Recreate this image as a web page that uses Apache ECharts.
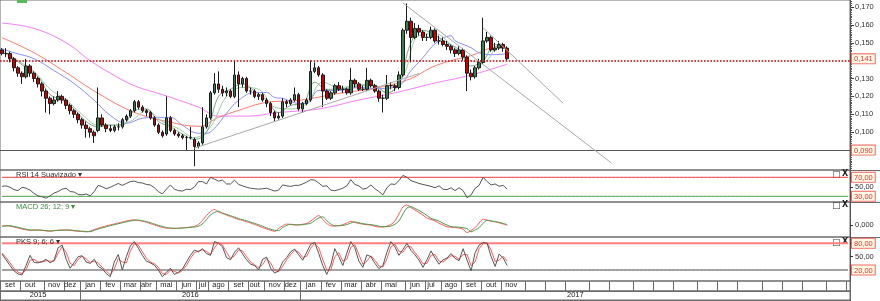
<!DOCTYPE html>
<html><head><meta charset="utf-8">
<script src="https://cdn.jsdelivr.net/npm/echarts@6/dist/echarts.min.js"></script>
<style>html,body{margin:0;padding:0;background:#fff}#c{width:880px;height:301px}</style>
</head><body><div id="c"></div>
<script>
// ---------- DATA ----------
const SLOTS = 212; // time slots on the axis (history + empty future)
const openP = [
0.146,0.144,0.144,0.141,0.136,0.133,0.131,0.137,0.133,0.130,
0.127,0.123,0.119,0.116,0.118,0.120,0.118,0.115,0.112,0.110,
0.107,0.104,0.102,0.100,0.101,0.108,0.104,0.102,0.101,0.103,
0.103,0.107,0.109,0.112,0.117,0.114,0.112,0.111,0.108,0.104,
0.100,0.099,0.108,0.101,0.099,0.098,0.097,0.097,0.096,0.092,
0.094,0.103,0.108,0.122,0.127,0.124,0.122,0.123,0.120,0.132,
0.127,0.130,0.123,0.123,0.120,0.121,0.118,0.116,0.111,0.108,
0.109,0.117,0.116,0.118,0.121,0.113,0.116,0.118,0.134,0.136,
0.132,0.123,0.119,0.122,0.126,0.124,0.124,0.122,0.129,0.127,
0.124,0.124,0.129,0.126,0.123,0.119,0.119,0.126,0.126,0.125,
0.132,0.157,0.162,0.153,0.158,0.156,0.153,0.153,0.157,0.151,
0.151,0.149,0.148,0.146,0.144,0.146,0.142,0.133,0.131,0.136,
0.139,0.151,0.153,0.146,0.147,0.149,0.147];
const closeP = [
0.144,0.144,0.141,0.136,0.133,0.131,0.137,0.133,0.130,0.127,
0.123,0.119,0.116,0.118,0.120,0.118,0.115,0.112,0.110,0.107,
0.104,0.102,0.100,0.098,0.108,0.104,0.102,0.101,0.103,0.103,
0.107,0.109,0.112,0.117,0.114,0.112,0.111,0.108,0.104,0.100,
0.098,0.108,0.101,0.099,0.098,0.097,0.097,0.097,0.092,0.094,
0.103,0.108,0.122,0.127,0.124,0.122,0.123,0.120,0.132,0.127,
0.130,0.123,0.123,0.120,0.121,0.118,0.116,0.111,0.108,0.109,
0.117,0.116,0.118,0.121,0.113,0.116,0.118,0.134,0.136,0.132,
0.123,0.119,0.122,0.126,0.124,0.124,0.122,0.129,0.127,0.124,
0.124,0.129,0.126,0.123,0.119,0.119,0.126,0.126,0.125,0.132,
0.157,0.162,0.153,0.158,0.156,0.153,0.153,0.157,0.151,0.151,
0.149,0.148,0.146,0.144,0.146,0.142,0.133,0.131,0.136,0.139,
0.151,0.153,0.146,0.147,0.149,0.147,0.141];
const highP = [
0.147,0.147,0.145,0.142,0.137,0.134,0.141,0.138,0.134,0.131,
0.128,0.124,0.120,0.120,0.123,0.121,0.119,0.116,0.113,0.111,
0.108,0.106,0.103,0.101,0.125,0.110,0.105,0.104,0.104,0.105,
0.108,0.110,0.113,0.118,0.118,0.115,0.113,0.112,0.109,0.105,
0.101,0.120,0.109,0.102,0.100,0.099,0.098,0.103,0.097,0.095,
0.114,0.110,0.123,0.133,0.134,0.126,0.125,0.124,0.140,0.134,
0.131,0.131,0.125,0.124,0.122,0.122,0.119,0.117,0.112,0.111,
0.119,0.118,0.119,0.125,0.122,0.117,0.119,0.140,0.139,0.137,
0.133,0.124,0.123,0.127,0.128,0.126,0.125,0.136,0.130,0.128,
0.126,0.136,0.130,0.127,0.124,0.121,0.132,0.128,0.127,0.134,
0.158,0.172,0.164,0.161,0.160,0.157,0.155,0.159,0.158,0.154,
0.153,0.151,0.149,0.147,0.148,0.147,0.143,0.135,0.137,0.141,
0.164,0.156,0.154,0.150,0.151,0.150,0.148];
const lowP = [
0.143,0.142,0.139,0.134,0.131,0.127,0.130,0.131,0.128,0.125,
0.120,0.111,0.110,0.115,0.117,0.116,0.113,0.110,0.108,0.105,
0.102,0.097,0.097,0.094,0.100,0.103,0.100,0.100,0.100,0.101,
0.102,0.106,0.108,0.111,0.113,0.111,0.109,0.107,0.103,0.099,
0.097,0.098,0.100,0.098,0.097,0.096,0.090,0.096,0.081,0.091,
0.093,0.102,0.107,0.121,0.122,0.120,0.120,0.119,0.119,0.114,
0.125,0.122,0.121,0.119,0.118,0.117,0.114,0.109,0.106,0.107,
0.108,0.114,0.115,0.117,0.112,0.111,0.115,0.117,0.133,0.131,
0.114,0.118,0.118,0.121,0.123,0.122,0.121,0.121,0.125,0.123,
0.123,0.123,0.125,0.122,0.117,0.111,0.118,0.124,0.123,0.124,
0.131,0.155,0.139,0.152,0.154,0.151,0.151,0.152,0.150,0.149,
0.148,0.146,0.144,0.142,0.143,0.140,0.123,0.129,0.130,0.135,
0.138,0.150,0.145,0.145,0.146,0.145,0.140];

// moving averages, [slot, value]
const maPink = [[0,0.161],[8,0.158],[16,0.150],[22,0.140],[27,0.133],[33,0.126],[40,0.121],[44,0.118],[49,0.114],[54,0.109],[61,0.109],[69,0.111],[79,0.113],[89,0.118],[98,0.122],[107,0.127],[117,0.132],[126,0.138]];
const maRed = [[0,0.1528],[8,0.1444],[16,0.1333],[24,0.1217],[33,0.1111],[42,0.1056],[49,0.1033],[54,0.1083],[59,0.1122],[66,0.1167],[74,0.1178],[84,0.1217],[94,0.1250],[102,0.1300],[107,0.1361],[112,0.1400],[117,0.1428],[122,0.1472],[125,0.1483],[126,0.1456]];
const maBlue = [[0,0.1467],[3,0.1444],[8,0.1411],[13,0.1344],[18,0.1272],[23,0.1178],[27,0.1094],[31,0.1050],[35,0.1078],[39,0.1083],[42,0.1083],[45,0.1039],[49,0.0994],[51,0.0994],[53,0.1022],[56,0.1106],[59,0.1178],[63,0.1222],[66,0.1222],[68,0.1194],[70,0.1189],[74,0.1161],[76,0.1161],[79,0.1233],[84,0.1233],[89,0.1250],[94,0.1244],[99,0.1261],[102,0.1344],[105,0.1417],[108,0.1494],[112,0.1539],[113,0.1511],[117,0.1472],[119,0.1444],[122,0.1433],[126,0.1439]];
const maGreenA = [[0,0.146],[4,0.140],[8,0.134],[12,0.124],[16,0.118],[20,0.110],[24,0.104],[28,0.104],[32,0.106],[36,0.112],[40,0.106],[44,0.102],[48,0.097],[52,0.103],[56,0.120],[60,0.125],[64,0.124],[68,0.114],[72,0.113],[76,0.116],[80,0.128],[84,0.125],[88,0.126],[92,0.127],[96,0.122],[100,0.131],[104,0.154],[108,0.155],[112,0.149],[116,0.141],[120,0.139],[124,0.148],[126,0.146]];
const maGreenB = [[0,0.145],[3,0.141],[6,0.136],[9,0.131],[12,0.121],[15,0.118],[18,0.113],[21,0.106],[24,0.103],[27,0.104],[30,0.104],[33,0.112],[36,0.113],[39,0.106],[42,0.103],[45,0.099],[48,0.096],[51,0.100],[54,0.120],[57,0.124],[60,0.127],[63,0.123],[66,0.118],[69,0.111],[72,0.115],[75,0.116],[78,0.128],[81,0.124],[84,0.124],[87,0.125],[90,0.126],[93,0.126],[96,0.122],[99,0.127],[102,0.150],[105,0.157],[108,0.154],[111,0.150],[114,0.146],[117,0.137],[120,0.140],[123,0.149],[126,0.146]];

// trend lines [slot, price] pairs
const trendLines = [
  [[48,0.0911],[104,0.1328]],
  [[100,0.1722],[152,0.0828]],
  [[120,0.1583],[140,0.1161]]
];
const lastPrice = 0.141;
const supportLevel = 0.090;
const priceTicks = [0.09,0.10,0.11,0.12,0.13,0.141,0.15,0.16,0.17];

const rsi = [
51,52,49,44,42,49,47,43,36,31,
29,26,31,37,40,45,47,40,39,34,
33,35,31,40,53,50,46,49,53,57,
53,57,61,62,59,58,55,54,48,40,
35,45,54,45,42,41,45,44,50,61,
61,56,70,66,62,64,56,56,64,55,
52,49,47,46,45,46,47,44,41,43,
54,52,51,53,53,56,60,65,64,58,
51,52,43,42,44,47,52,65,55,52,
45,47,54,46,40,33,48,56,55,63,
74,70,63,60,57,55,53,51,48,52,
45,44,48,42,48,42,27,33,47,53,
70,61,54,56,51,53,45];
const rsiTicks = [30,50,70];
const rsiUpper = 70, rsiLower = 30;

const macdLine = [
-1.0,-0.6,-1.2,-2.0,-3.0,-4.0,-4.8,-5.2,-5.0,-5.1,
-5.4,-5.9,-6.2,-5.6,-5.2,-5.0,-5.0,-5.3,-5.9,-6.3,
-6.5,-6.8,-6.0,-4.6,-3.2,-2.0,-0.9,0.1,1.0,2.0,
3.0,4.0,4.8,5.2,4.6,3.8,2.8,1.4,0.0,-1.2,
-2.4,-3.2,-3.4,-3.6,-3.2,-2.9,-2.5,-2.0,-1.4,0.5,
4.5,9.5,13.5,15.5,13.0,11.5,10.0,8.5,7.0,5.6,
4.6,3.3,2.0,0.6,-0.9,-2.6,-4.0,-5.2,-6.4,-3.5,
-0.8,0.9,0.6,0.0,0.2,0.8,1.6,4.0,7.0,9.5,
5.5,1.5,-0.8,-1.0,-0.6,0.3,2.0,3.6,2.6,1.5,
0.9,0.3,-0.2,-1.3,-2.0,-2.0,-1.2,0.5,4.0,11.0,
18.0,20.0,17.5,15.0,12.5,9.8,7.0,5.5,4.2,1.8,
0.0,-1.8,-2.2,-2.4,-3.0,-4.2,-7.5,-5.5,-2.5,2.0,
5.8,4.8,4.0,3.2,2.2,1.0,-0.2];
const macdSignal = [
-1.5,-1.0,-0.7,-1.5,-2.3,-3.3,-4.2,-5.0,-5.0,-5.0,
-5.2,-5.6,-6.0,-5.7,-5.4,-5.2,-5.1,-5.0,-5.5,-5.9,
-6.2,-6.5,-6.7,-5.3,-4.0,-2.9,-1.8,-0.7,0.3,1.2,
2.2,3.1,4.0,4.6,4.9,4.2,3.5,2.3,1.0,-0.3,
-1.4,-2.5,-3.0,-3.2,-3.3,-3.0,-2.8,-2.4,-2.0,-1.2,
1.0,5.5,10.0,12.5,13.8,12.0,10.7,9.3,7.9,6.4,
5.3,4.3,2.9,1.6,0.3,-1.3,-3.0,-4.2,-5.3,-5.6,
-2.5,-0.4,0.7,0.4,0.1,0.3,1.0,1.7,4.5,7.0,
8.2,4.3,1.0,-0.7,-0.7,-0.5,0.4,2.0,3.1,2.2,
1.3,0.8,0.3,-0.2,-1.2,-1.7,-1.7,-1.0,0.8,4.0,
11.0,17.0,18.3,16.5,14.5,12.2,9.5,6.7,5.3,4.0,
1.7,0.0,-1.7,-2.0,-2.2,-2.7,-3.6,-6.7,-5.0,-2.6,
1.7,4.8,4.0,3.4,2.7,1.6,0.4];

const pksK = [
56,43,30,18,11,9,30,53,37,36,
39,44,36,42,70,76,44,24,37,50,
52,38,35,44,28,23,12,5,38,55,
20,50,74,84,69,53,40,36,31,20,
5,15,24,10,15,22,38,53,65,61,
68,57,53,84,80,72,48,43,60,70,
56,43,33,30,20,44,49,24,13,18,
38,48,61,67,54,42,60,78,82,57,
30,10,31,68,50,30,58,84,70,40,
26,54,50,35,23,30,60,84,72,53,
66,80,64,54,42,26,43,63,47,33,
43,47,57,46,41,68,42,18,59,76,
82,80,50,28,56,47,30];
const pksD = [
58,48,36,24,15,12,20,42,44,38,
38,41,40,40,58,72,60,35,30,44,
51,45,37,40,36,26,18,9,22,46,
38,36,62,79,76,61,47,38,34,26,
12,10,20,17,13,19,30,46,59,63,
65,62,55,70,82,76,60,46,52,65,
63,50,38,32,25,32,46,36,19,16,
28,43,55,64,60,48,51,69,80,70,
44,20,20,50,59,40,44,71,77,55,
33,40,52,42,29,27,45,72,78,62,
60,73,72,59,48,34,35,53,55,40,
38,45,52,51,44,55,55,30,38,68,
79,81,65,39,42,51,40];
const pksTicks = [20,50,80];
const pksUpper = 80, pksLower = 20;

// calendar: month names and the slot at which each month starts
const monthNames = ['set','out','nov','dez','jan','fev','mar','abr','mai','jun','jul','ago','set','out','nov','dez','jan','fev','mar','abr','mai','jun','jul','ago','set','out','nov','','','','','','','','','','','','','','','',''];
const monthStart = [0,5,11,16,20,25,30,35,39,44,49,52,57,62,66,71,75,80,85,90,95,101,106,110,115,120,125,131,136,141,147,152,158,163,168,174,179,184,190,195,200,206,211];
const yearNames = ['2015','2016','2017'];
const yearStart = [0,20,75];

// ---------- BUILD ----------
const slots = Array.from({length: SLOTS}, (_, i) => String(i));
const candles = closeP.map((c, i) => [openP[i], c, lowP[i], highP[i]]);

function labelSlots(names, starts) {
  const arr = new Array(SLOTS).fill('');
  names.forEach((n, m) => {
    const end = m + 1 < starts.length ? starts[m + 1] : SLOTS;
    const mid = Math.floor((starts[m] + end) / 2 - 0.5);
    if (n) arr[Math.max(starts[m], mid)] = n;
  });
  return arr;
}
const monthCats = labelSlots(monthNames, monthStart);
const yearCats = labelSlots(yearNames, yearStart);
const monthSet = new Set(monthStart);
const yearSet = new Set(yearStart);

const minorTicks = [];
for (let v = 80; v <= 173; v += 1) minorTicks.push(v / 1000);

const FONT = 'Liberation Sans, Arial, sans-serif';
const fmt = (v, d) => v.toFixed(d).replace('.', ',');
const boxStyle = {color: '#e8322a', backgroundColor: '#fff9e6', borderColor: '#f26b63', borderWidth: 1, padding: [1, 2, 0, 2], lineHeight: 9, fontSize: 7.5, fontFamily: FONT};
const plainStyle = {color: '#333', fontSize: 7.5, lineHeight: 8, fontFamily: FONT, padding: [0, 0, 0, 3]};

const grids = [
  {left: 0, right: 30, top: -1, height: 171},
  {left: 0, right: 30, top: 170, height: 32},
  {left: 0, right: 30, top: 202, height: 35},
  {left: 0, right: 30, top: 237, height: 44},
  {left: 0, right: 30, top: 281, height: 10},
  {left: 0, right: 30, top: 291, height: 9}
].map(g => Object.assign({show: true, borderColor: '#6a6a6a', borderWidth: 1, backgroundColor: 'transparent'}, g));

const hiddenX = gi => ({type: 'category', gridIndex: gi, data: slots, boundaryGap: true, show: false});

const xAxes = [hiddenX(0), hiddenX(1), hiddenX(2), hiddenX(3),
  {type: 'category', gridIndex: 4, data: monthCats, boundaryGap: true, position: 'bottom',
   axisLine: {show: true, lineStyle: {color: '#6a6a6a'}},
   axisTick: {show: true, inside: true, length: 10, interval: (i) => monthSet.has(i), lineStyle: {color: '#6a6a6a'}},
   axisLabel: {inside: true, margin: 2, interval: (i, v) => v !== '', color: '#222', fontSize: 7.5, fontFamily: FONT}},
  {type: 'category', gridIndex: 5, data: yearCats, boundaryGap: true, position: 'bottom',
   axisLine: {show: true, lineStyle: {color: '#6a6a6a'}},
   axisTick: {show: true, inside: true, length: 9, interval: (i) => yearSet.has(i), lineStyle: {color: '#6a6a6a'}},
   axisLabel: {inside: true, margin: 1, interval: (i, v) => v !== '', color: '#222', fontSize: 7.5, fontFamily: FONT}}
];

const boxedLabel = (isPlain, d) => v => (isPlain(v) ? '{p|' : '{b|') + fmt(v, d) + '}';

const yAxes = [
  {type: 'value', gridIndex: 0, position: 'right', min: 0.07889, max: 0.17389,
   axisLine: {show: false}, splitLine: {show: false},
   axisTick: {show: true, length: 4, customValues: priceTicks, lineStyle: {color: '#333'}},
   axisLabel: {customValues: priceTicks, margin: 2, hideOverlap: false,
     formatter: boxedLabel(v => !(Math.abs(v - lastPrice) < 1e-6 || Math.abs(v - supportLevel) < 1e-6), 3),
     rich: {b: boxStyle, p: plainStyle}}},
  {type: 'value', gridIndex: 0, position: 'right', min: 0.07889, max: 0.17389,
   axisLine: {show: false}, splitLine: {show: false}, axisLabel: {show: false},
   axisTick: {show: true, length: 2, customValues: minorTicks, lineStyle: {color: '#555'}}},
  {type: 'value', gridIndex: 1, position: 'right', min: 18, max: 85.4,
   axisLine: {show: false}, splitLine: {show: false},
   axisTick: {show: true, length: 3, customValues: rsiTicks, lineStyle: {color: '#333'}},
   axisLabel: {customValues: rsiTicks, margin: 2, hideOverlap: false, showMinLabel: true, showMaxLabel: true,
     formatter: boxedLabel(v => v === 50, 2), rich: {b: boxStyle, p: plainStyle}}},
  {type: 'value', gridIndex: 2, position: 'right', min: -12, max: 23,
   axisLine: {show: false}, splitLine: {show: false},
   axisTick: {show: true, length: 3, customValues: [0], lineStyle: {color: '#333'}},
   axisLabel: {customValues: [0], margin: 2, formatter: () => '{p|0,000}', rich: {p: plainStyle}}},
  {type: 'value', gridIndex: 3, position: 'right', min: -4.7, max: 94.2,
   axisLine: {show: false}, splitLine: {show: false},
   axisTick: {show: true, length: 3, customValues: pksTicks, lineStyle: {color: '#333'}},
   axisLabel: {customValues: pksTicks, margin: 2, hideOverlap: false,
     formatter: boxedLabel(v => v === 50, 2), rich: {b: boxStyle, p: plainStyle}}},
  {type: 'value', gridIndex: 4, show: false, min: 0, max: 1},
  {type: 'value', gridIndex: 5, show: false, min: 0, max: 1}
];

const maSeries = (data, color) => ({type: 'line', xAxisIndex: 0, yAxisIndex: 0, data, smooth: 0.4, symbol: 'none',
  lineStyle: {color, width: 1}, z: 2, silent: true});

// constant threshold lines drawn as line series through the panel's axes
const levelSeries = (xi, yi, value, color, width) => ({type: 'line', xAxisIndex: xi, yAxisIndex: yi,
  data: slots.map(() => value), symbol: 'none', silent: true, z: 1, lineStyle: {color, width}});

const series = [
  maSeries(maPink, '#f77cf7'),
  maSeries(maRed, '#ff7a70'),
  maSeries(maBlue, '#8c8cff'),
  maSeries(maGreenA, '#9fcca6'),
  maSeries(maGreenB, '#7fa58a'),
  {type: 'candlestick', xAxisIndex: 0, yAxisIndex: 0, data: candles, barWidth: 3, z: 3,
   itemStyle: {color: '#3d7a4d', color0: '#c80000', borderColor: '#1c1c1c', borderColor0: '#1c1c1c', borderWidth: 1},
   markLine: {silent: true, symbol: 'none', animation: false, label: {show: false},
     data: [
       {yAxis: lastPrice, lineStyle: {color: '#c40000', type: 'dotted', width: 1.6}},
       {yAxis: supportLevel, lineStyle: {color: '#555', type: 'solid', width: 1}},
       ...trendLines.map(t => [{coord: t[0], lineStyle: {color: '#a8a8a8', type: 'solid', width: 1}}, {coord: t[1]}])
     ]}},
  levelSeries(1, 2, rsiUpper, '#f03a3a', 1),
  levelSeries(1, 2, rsiLower, '#48a048', 1),
  {type: 'line', xAxisIndex: 1, yAxisIndex: 2, data: rsi, symbol: 'none', z: 3, lineStyle: {color: '#555', width: 1}},
  {type: 'line', xAxisIndex: 2, yAxisIndex: 3, data: macdLine, symbol: 'none', smooth: 0.3, lineStyle: {color: '#ff5a5a', width: 1}},
  {type: 'line', xAxisIndex: 2, yAxisIndex: 3, data: macdSignal, symbol: 'none', smooth: 0.3, lineStyle: {color: '#4f9a4f', width: 1}},
  levelSeries(3, 4, pksUpper, '#ff8080', 2),
  levelSeries(3, 4, pksLower, '#444', 1),
  {type: 'line', xAxisIndex: 3, yAxisIndex: 4, data: pksD, symbol: 'none', z: 3, lineStyle: {color: '#ff5a5a', width: 1}},
  {type: 'line', xAxisIndex: 3, yAxisIndex: 4, data: pksK, symbol: 'none', z: 3, lineStyle: {color: '#555', width: 1}}
];

const panelTitles = [
  {text: 'RSI 14 Suavizado ▾', top: 171, color: '#333'},
  {text: 'MACD 26; 12; 9 ▾', top: 203, color: '#3c8c3c'},
  {text: 'PKS 9; 6; 6 ▾', top: 238, color: '#333'}
];
const iconTops = [170, 201, 238];
const graphics = [
  {type: 'rect', left: 17, top: 0, shape: {width: 10, height: 3}, style: {fill: '#5cb85c'}},
  ...[170.5, 202.5, 237.5].map(y => ({type: 'line', shape: {x1: 850, y1: y, x2: 880, y2: y}, style: {stroke: '#6a6a6a', lineWidth: 1}})),
  {type: 'line', shape: {x1: 850.5, y1: 0, x2: 850.5, y2: 301}, style: {stroke: '#555', lineWidth: 1}},
  ...iconTops.flatMap(t => [
    {type: 'text', left: 832, top: t, style: {text: '□', font: '9px DejaVu Sans', fill: '#333'}},
    {type: 'text', left: 842, top: t, style: {text: 'X', font: 'bold 8px DejaVu Sans', fill: '#222'}}
  ])
];

const chart = echarts.init(document.getElementById('c'), null, {renderer: 'canvas'});
chart.setOption({
  animation: false,
  backgroundColor: '#fff',
  title: panelTitles.map(p => ({text: p.text, left: 16, top: p.top, padding: 0,
    textStyle: {fontSize: 7.5, fontWeight: 'normal', color: p.color, fontFamily: FONT}})),
  grid: grids,
  xAxis: xAxes,
  yAxis: yAxes,
  series,
  graphic: graphics
});
</script>
</body></html>
